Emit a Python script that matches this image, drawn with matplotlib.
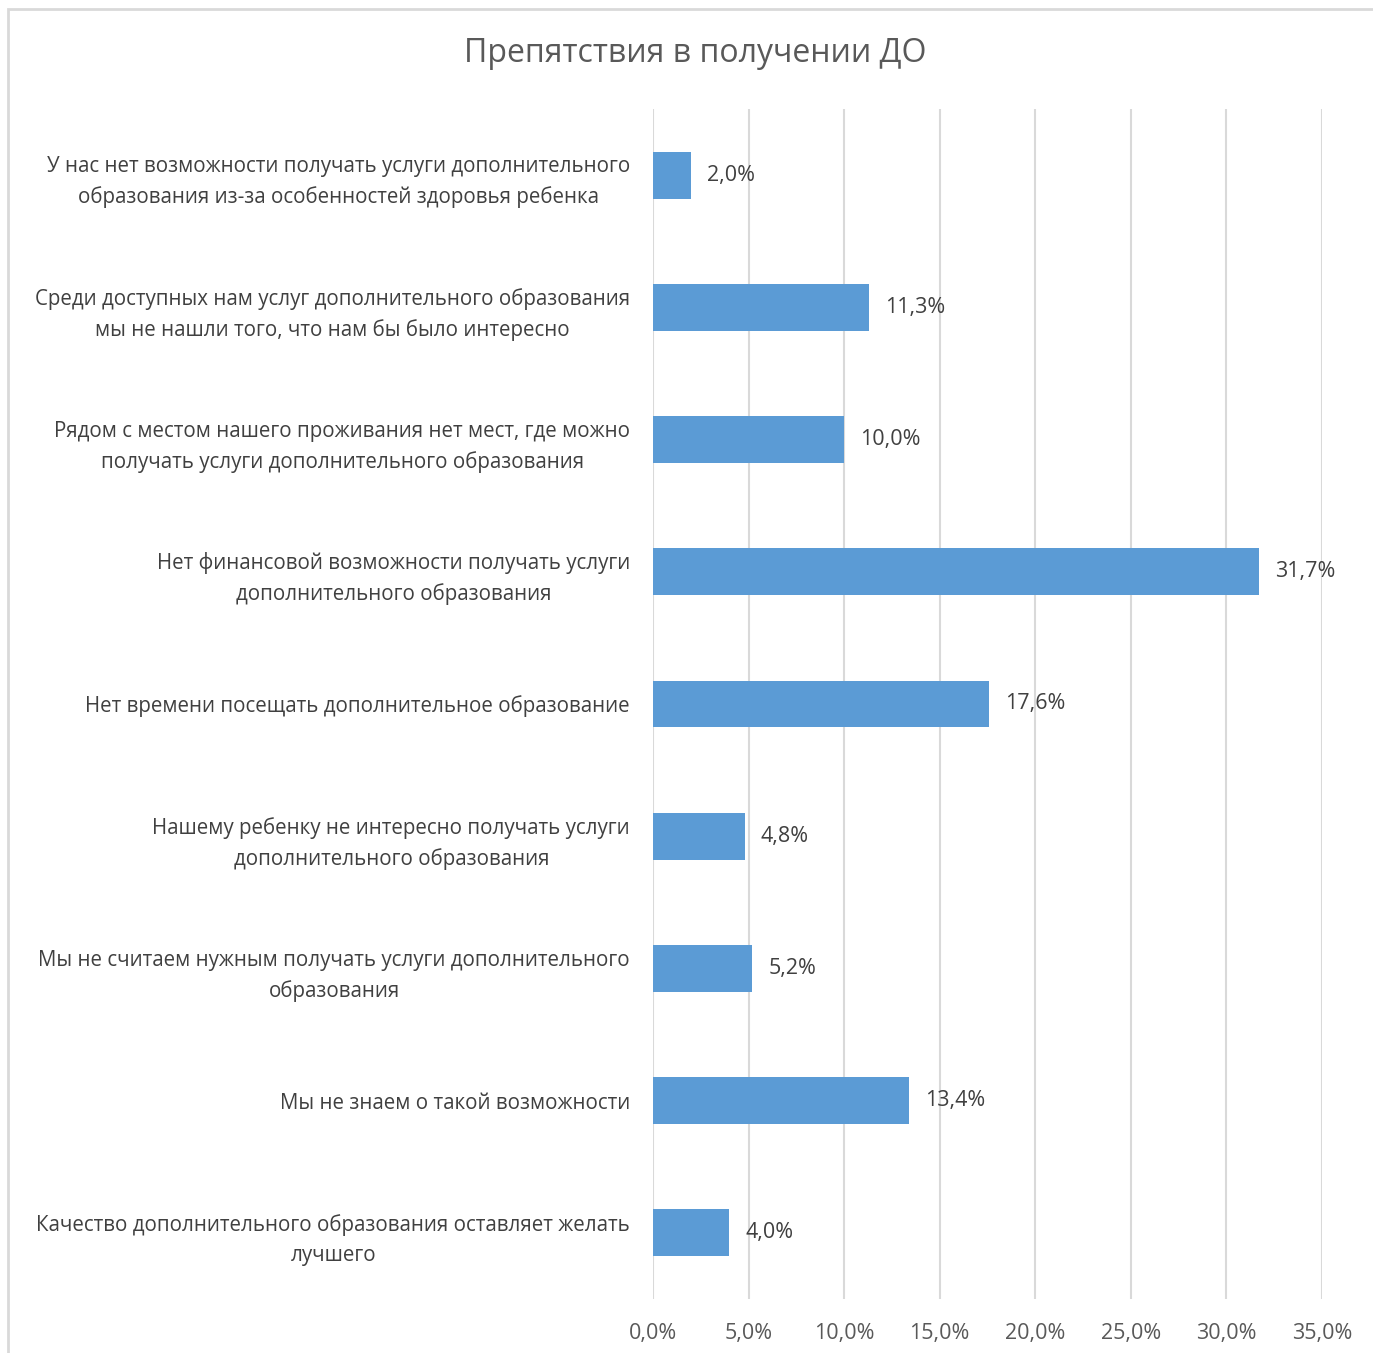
import matplotlib.pyplot as plt
from matplotlib.patches import Rectangle

categories = [
    "У нас нет возможности получать услуги дополнительного\nобразования из-за особенностей здоровья ребенка",
    "Среди доступных нам услуг дополнительного образования\nмы не нашли того, что нам бы было интересно",
    "Рядом с местом нашего проживания нет мест, где можно\nполучать услуги дополнительного образования",
    "Нет финансовой возможности получать услуги\nдополнительного образования",
    "Нет времени посещать дополнительное образование",
    "Нашему ребенку не интересно получать услуги\nдополнительного образования",
    "Мы не считаем нужным получать услуги дополнительного\nобразования",
    "Мы не знаем о такой возможности",
    "Качество дополнительного образования оставляет желать\nлучшего",
]
values = [2.0, 11.3, 10.0, 31.7, 17.6, 4.8, 5.2, 13.4, 4.0]
xticks = [0, 5, 10, 15, 20, 25, 30, 35]
title = "Препятствия в получении ДО"

plt.rcParams['font.family'] = ['Open Sans', 'DejaVu Sans']

W, H = 1373, 1353
fig = plt.figure(figsize=(W / 100, H / 100), dpi=100)
ax = fig.add_axes([653 / W, 1 - 1299 / H, (1322 - 653) / W, (1299 - 109) / H])

pos = list(range(len(categories)))
ax.barh(pos, values, height=0.355, color="#5B9BD5", zorder=3)
for p, v in zip(pos, values):
    ax.annotate(f"{v:.1f}%".replace(".", ","), (v, p), xytext=(16, 0),
                textcoords="offset pixels", va="center", ha="left",
                fontsize=15.5, color="#404040")

ax.set_xlim(0, 35)
ax.set_ylim(len(categories) - 0.5, -0.5)
ax.set_xticks(xticks)
ax.set_xticklabels([f"{t:.1f}%".replace(".", ",") for t in xticks])
ax.set_yticks(pos)
ax.set_yticklabels(categories, ha="right", multialignment="center",
                   linespacing=1.55)
ax.tick_params(axis="x", length=0, pad=17, labelsize=15.5, labelcolor="#595959")
ax.tick_params(axis="y", length=0, pad=16.5, labelsize=14.8, labelcolor="#404040")
ax.grid(axis="x", color="#D9D9D9", linewidth=1.5, zorder=0)
for s in ax.spines.values():
    s.set_visible(False)

fig.text(695 / W, 1 - 53 / H, title, ha="center", va="center",
         fontsize=23, color="#595959")

fig.patches.append(Rectangle((8 / W, -0.01), 1.02, 1 - 9 / H + 0.01,
                             transform=fig.transFigure, fill=False,
                             edgecolor="#D9D9D9", linewidth=2))

fig.savefig("out.png", dpi=100)
